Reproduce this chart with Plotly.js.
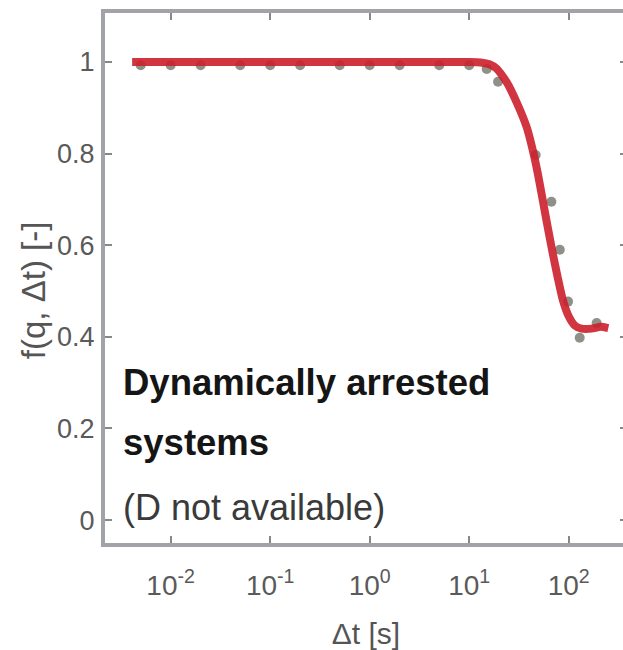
<!DOCTYPE html>
<html>
<head>
<meta charset="utf-8">
<script src="https://cdn.plot.ly/plotly-3.0.1.min.js"></script>
<style>html,body{margin:0;padding:0;background:#fff;overflow:hidden;}#chart{width:627px;height:650px;}</style>
</head>
<body>
<div id="chart"></div>
<script>
// Measured data points (gray markers)
const dataT = [0.005, 0.01, 0.02, 0.05, 0.1, 0.2, 0.5, 1, 2, 5, 10, 15, 19.5, 46.6, 67, 81.4, 98.5, 129, 191];
const dataF = [0.993, 0.993, 0.993, 0.993, 0.993, 0.993, 0.993, 0.993, 0.993, 0.993, 0.993, 0.985, 0.957, 0.797, 0.695, 0.59, 0.477, 0.398, 0.43];

// Fitted curve (red line)
const fitT = [0.0041, 0.01, 0.1, 1, 5, 10, 13, 16, 19, 23.8, 30, 37.8, 43.5, 48.8, 54.8, 61.5, 69, 77.5, 87, 100, 115, 135, 170, 210, 250];
const fitF = [1.0, 1.0, 1.0, 1.0, 1.0, 1.0, 0.999, 0.995, 0.985, 0.956, 0.912, 0.858, 0.808, 0.758, 0.699, 0.64, 0.583, 0.53, 0.482, 0.445, 0.425, 0.418, 0.418, 0.422, 0.419];

// Axis ticks
const xTickVals = [0.01, 0.1, 1, 10, 100];
const xTickText = ['10<sup>-2</sup>', '10<sup>-1</sup>', '10<sup>0</sup>', '10<sup>1</sup>', '10<sup>2</sup>'];
const yTickVals = [0, 0.2, 0.4, 0.6, 0.8, 1];
const yTickText = ['0', '0.2', '0.4', '0.6', '0.8', '1'];

// Labels
const xTitle = 'Δt [s]';
const yTitle = 'f(q, Δt) [-]';
const noteLines = ['Dynamically arrested', 'systems', '(D not available)'];

const traces = [
  {
    x: dataT, y: dataF, type: 'scatter', mode: 'markers',
    marker: {color: '#8f9088', size: 10, line: {width: 0}},
    showlegend: false, hoverinfo: 'skip'
  },
  {
    x: fitT, y: fitF, type: 'scatter', mode: 'lines',
    line: {color: '#cc1f2b', width: 8, shape: 'spline', smoothing: 0.5},
    opacity: 0.9,
    showlegend: false, hoverinfo: 'skip'
  }
];

const font = 'Liberation Sans, Arial, sans-serif';
const layout = {
  width: 627, height: 650,
  margin: {l: 105, r: 0, t: 13, b: 107, pad: 0},
  paper_bgcolor: '#ffffff', plot_bgcolor: '#ffffff',
  showlegend: false,
  font: {family: font, color: '#555555'},
  xaxis: {
    type: 'log', range: [-2.66, 2.586],
    tickvals: xTickVals, ticktext: xTickText,
    tickfont: {size: 28, color: '#5a5a5a', family: font},
    ticklabelstandoff: 14,
    ticks: 'inside', ticklen: 7, tickwidth: 2, tickcolor: '#888',
    showline: true, linecolor: '#a2a2aa', linewidth: 4, mirror: 'allticks',
    showgrid: false, zeroline: false,
    title: {text: xTitle, font: {size: 30, color: '#555555', family: font}, standoff: 24}
  },
  yaxis: {
    range: [-0.05, 1.107],
    tickvals: yTickVals, ticktext: yTickText,
    tickfont: {size: 27, color: '#5a5a5a', family: font},
    ticklabelstandoff: 1,
    ticks: 'inside', ticklen: 7, tickwidth: 2, tickcolor: '#888',
    showline: true, linecolor: '#a2a2aa', linewidth: 4, mirror: 'allticks',
    showgrid: false, zeroline: false
  },
  annotations: [
    {x: -0.137, y: 0.478, xref: 'paper', yref: 'paper', text: yTitle, textangle: -90, showarrow: false,
     xanchor: 'center', yanchor: 'middle', font: {size: 33, color: '#555555', family: font}},
    {x: -2.5, y: 0.30, xref: 'x', yref: 'y', text: '<b>' + noteLines[0] + '</b>', showarrow: false,
     xanchor: 'left', yanchor: 'middle', font: {size: 36.5, color: '#151515', family: font}},
    {x: -2.5, y: 0.169, xref: 'x', yref: 'y', text: '<b>' + noteLines[1] + '</b>', showarrow: false,
     xanchor: 'left', yanchor: 'middle', font: {size: 36.5, color: '#151515', family: font}},
    {x: -2.5, y: 0.027, xref: 'x', yref: 'y', text: noteLines[2], showarrow: false,
     xanchor: 'left', yanchor: 'middle', font: {size: 36, color: '#3a3a3a', family: font}}
  ]
};

Plotly.newPlot('chart', traces, layout, {displayModeBar: false, staticPlot: true});
</script>
</body>
</html>
